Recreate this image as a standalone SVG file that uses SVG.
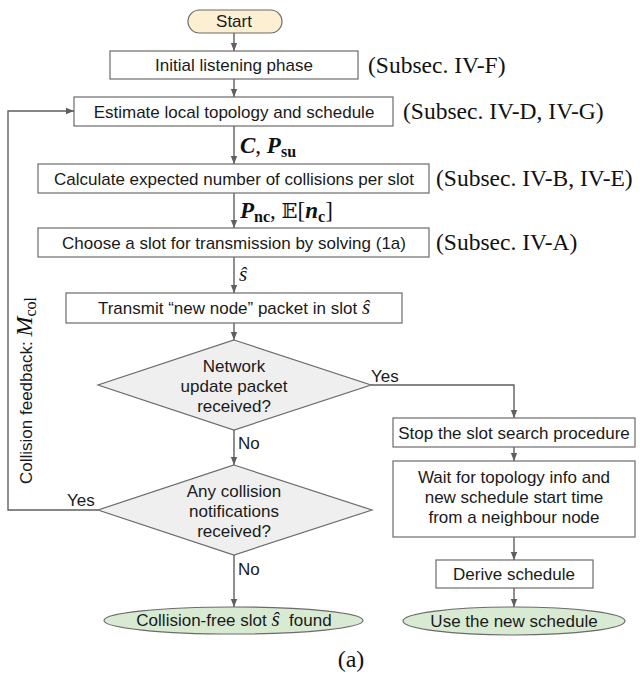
<svg xmlns="http://www.w3.org/2000/svg" width="640" height="681" viewBox="0 0 640 681">
<defs>
<marker id="ah" viewBox="0 0 8 8" refX="8" refY="4" markerWidth="8" markerHeight="8" markerUnits="userSpaceOnUse" orient="auto">
<path d="M0,0.8 L8,4 L0,7.2 Z" fill="#5f5f5f"/>
</marker>
<style>
.box{fill:#ffffff;stroke:#6b6b6b;stroke-width:1.2}
.dia{fill:#efefef;stroke:#6b6b6b;stroke-width:1.2}
.grn{fill:#d9ead3;stroke:#6b6b6b;stroke-width:1.2}
.st{fill:#fdefd1;stroke:#6b6b6b;stroke-width:1.2}
.t{font-family:"Liberation Sans",Arial,sans-serif;font-size:17px;fill:#1a1a1a;text-anchor:middle}
.tl{font-family:"Liberation Sans",Arial,sans-serif;font-size:17px;fill:#1a1a1a}
.sub{font-family:"Liberation Serif","Times New Roman",serif;font-size:23.5px;fill:#111}
.m{font-family:"Liberation Serif","Times New Roman",serif;fill:#111}
.c{fill:none;stroke:#5f5f5f;stroke-width:1.4}
</style>
</defs>

<g id="connectors">
<line class="c" x1="234" y1="33" x2="234" y2="51" marker-end="url(#ah)"/>
<line class="c" x1="234" y1="79" x2="234" y2="97" marker-end="url(#ah)"/>
<line class="c" x1="234" y1="126" x2="234" y2="164" marker-end="url(#ah)"/>
<line class="c" x1="234" y1="193" x2="234" y2="228" marker-end="url(#ah)"/>
<line class="c" x1="234" y1="257" x2="234" y2="293" marker-end="url(#ah)"/>
<line class="c" x1="234" y1="323" x2="234" y2="340" marker-end="url(#ah)"/>
<line class="c" x1="234" y1="430" x2="234" y2="465" marker-end="url(#ah)"/>
<line class="c" x1="234" y1="555" x2="234" y2="607" marker-end="url(#ah)"/>
<polyline class="c" points="371,385 514,385 514,418" marker-end="url(#ah)"/>
<line class="c" x1="514" y1="447" x2="514" y2="461" marker-end="url(#ah)"/>
<line class="c" x1="514" y1="537" x2="514" y2="560" marker-end="url(#ah)"/>
<line class="c" x1="514" y1="588" x2="514" y2="607" marker-end="url(#ah)"/>
<polyline class="c" points="98,510 8,510 8,111 74,111" marker-end="url(#ah)"/>
<text class="tl" x="371" y="382">Yes</text>
<text class="tl" x="67" y="506">Yes</text>
<text class="tl" x="238" y="449">No</text>
<text class="tl" x="238" y="575">No</text>
<text class="m" x="240" y="153" font-size="23"><tspan font-weight="bold" font-style="italic">C</tspan>, <tspan font-weight="bold" font-style="italic">P</tspan><tspan font-weight="bold" font-size="16" dy="4">su</tspan></text>
<text class="m" x="240" y="218" font-size="23"><tspan font-weight="bold" font-style="italic">P</tspan><tspan font-weight="bold" font-size="16" dy="4">nc</tspan><tspan dy="-4">, </tspan><tspan font-family="'DejaVu Serif','DejaVu Sans',serif" font-size="21">𝔼</tspan>[<tspan font-weight="bold" font-style="italic">n</tspan><tspan font-weight="bold" font-size="16" dy="4">c</tspan><tspan dy="-4">]</tspan></text>
<text class="m" x="239" y="281" font-size="21" font-style="italic">ŝ</text>
<text class="tl" font-size="19" transform="translate(32,484) rotate(-90)">Collision feedback: <tspan class="m" font-size="24" font-style="italic">M</tspan><tspan class="m" font-size="16" dy="4">col</tspan></text>
</g>

<g id="start">
<rect class="st" x="188" y="10" width="94" height="23" rx="11.5"/>
<text class="t" x="234" y="27">Start</text>
</g>
<g id="initial">
<rect class="box" x="110" y="51" width="248" height="28"/>
<text class="t" x="234" y="71">Initial listening phase</text>
<text class="sub" x="368" y="73">(Subsec. IV-F)</text>
</g>
<g id="estimate">
<rect class="box" x="74" y="97" width="319" height="29"/>
<text class="t" x="234" y="117.5">Estimate local topology and schedule</text>
<text class="sub" x="403" y="119">(Subsec. IV-D, IV-G)</text>
</g>
<g id="calculate">
<rect class="box" x="38" y="164" width="391" height="29"/>
<text class="t" x="234" y="184.5">Calculate expected number of collisions per slot</text>
<text class="sub" x="436" y="186">(Subsec. IV-B, IV-E)</text>
</g>
<g id="choose">
<rect class="box" x="38" y="228" width="391" height="29"/>
<text class="t" x="234" y="248.5">Choose a slot for transmission by solving (1a)</text>
<text class="sub" x="436" y="250">(Subsec. IV-A)</text>
</g>
<g id="transmit">
<rect class="box" x="66" y="293" width="336" height="30"/>
<text class="t" x="234" y="314">Transmit “new node” packet in slot <tspan class="m" font-size="21" font-style="italic">ŝ</tspan></text>
</g>
<g id="network-update">
<polygon class="dia" points="234,340 371,385 234,430 98,385"/>
<text class="t" x="234" y="372">Network</text>
<text class="t" x="234" y="392">update packet</text>
<text class="t" x="234" y="412">received?</text>
</g>
<g id="collision-notif">
<polygon class="dia" points="234,465 372,510 234,555 98,510"/>
<text class="t" x="234" y="497">Any collision</text>
<text class="t" x="234" y="517">notifications</text>
<text class="t" x="234" y="537">received?</text>
</g>
<g id="collision-free">
<rect class="grn" x="104" y="607" width="259" height="27" rx="130" ry="13.5"/>
<text class="t" x="234" y="626">Collision-free slot&#160;<tspan class="m" font-size="21" font-style="italic">ŝ</tspan>&#160;&#160;found</text>
</g>
<g id="stop">
<rect class="box" x="393" y="418" width="242" height="29"/>
<text class="t" x="514" y="438.5">Stop the slot search procedure</text>
</g>
<g id="wait">
<rect class="box" x="393" y="461" width="242" height="76"/>
<text class="t" x="514" y="483">Wait for topology info and</text>
<text class="t" x="514" y="503">new schedule start time</text>
<text class="t" x="514" y="523">from a neighbour node</text>
</g>
<g id="derive">
<rect class="box" x="436" y="560" width="157" height="28"/>
<text class="t" x="514" y="580">Derive schedule</text>
</g>
<g id="use-new">
<rect class="grn" x="403" y="607" width="222" height="28" rx="111" ry="14"/>
<text class="t" x="514" y="627">Use the new schedule</text>
</g>
<text class="m" x="351" y="667" font-size="24" text-anchor="middle">(a)</text>
</svg>
